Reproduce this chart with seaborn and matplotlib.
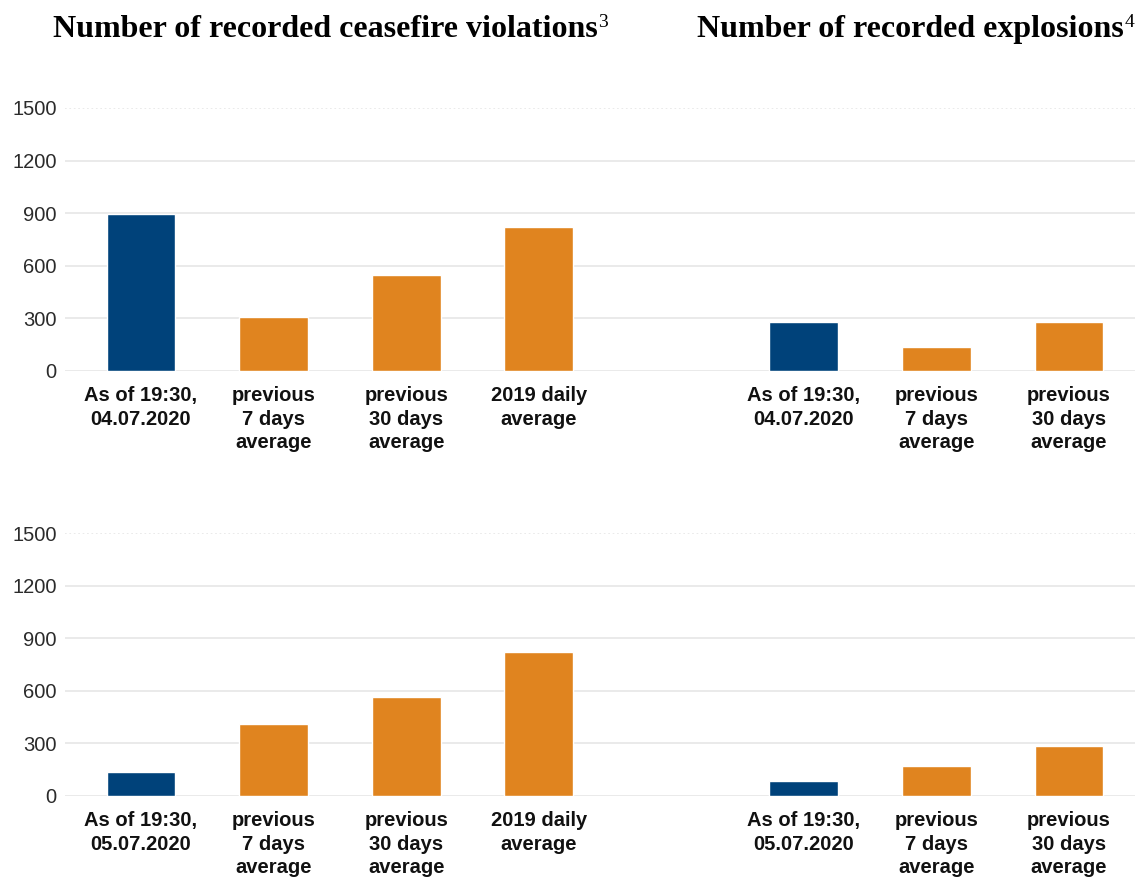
import matplotlib
matplotlib.use("Agg")
import matplotlib.pyplot as plt
import seaborn as sns
import pandas as pd

# data
dates = ["04.07.2020", "05.07.2020"]
cv_values = [[897, 308, 548, 821], [137, 411, 565, 821]]
ex_values = [[280, 137, 280], [86, 171, 285]]
avg_labels = ["previous\n7 days\naverage", "previous\n30 days\naverage", "2019 daily\naverage"]
cv_keys = ["cv_now", "cv_7", "cv_30", "cv_2019"]
ex_keys = ["ex_now", "ex_7", "ex_30"]
order = cv_keys + ["gap"] + ex_keys
yticks = [0, 300, 600, 900, 1200, 1500]
titles = ["Number of recorded ceasefire violations", "Number of recorded explosions"]
title_notes = ["3", "4"]

BLUE = "#00427a"
ORANGE = "#e0841f"
palette = {"current": BLUE, "average": ORANGE}

sns.set_theme(style="white")
plt.rcParams["font.family"] = ["Liberation Sans", "DejaVu Sans"]

fig = plt.figure(figsize=(11.41, 8.81), dpi=100)
axes_rects = [[0.057, 0.579, 0.938, 0.2985], [0.057, 0.0965, 0.938, 0.2985]]

for row, date in enumerate(dates):
    ax = fig.add_axes(axes_rects[row])
    df = pd.DataFrame({
        "key": cv_keys + ex_keys,
        "value": cv_values[row] + ex_values[row],
        "kind": ["current"] + ["average"] * 3 + ["current"] + ["average"] * 2,
    })
    sns.barplot(data=df, x="key", y="value", hue="kind", order=order,
                palette=palette, dodge=False, width=0.52, legend=False,
                saturation=1, ax=ax)
    now_label = f"As of 19:30,\n{date}"
    labels = [now_label] + avg_labels + [""] + [now_label] + avg_labels[:2]
    ax.set_xticks(range(len(order)))
    ax.set_xticklabels(labels, fontsize=14.5, fontweight="bold", color="#111111",
                       linespacing=1.3)
    ax.set_xlim(-0.573, 7.5)
    ax.set_ylim(0, 1500)
    ax.set_yticks(yticks)
    ax.set_yticklabels([str(v) for v in yticks], fontsize=14.5, color="#2b2b2b")
    ax.set_xlabel("")
    ax.set_ylabel("")
    ax.tick_params(axis="both", length=0)
    ax.tick_params(axis="x", pad=11)
    ax.tick_params(axis="y", pad=6)
    ax.grid(axis="y", color="#e6e6e6", linewidth=1.2)
    ax.set_axisbelow(True)
    ax.get_ygridlines()[-1].set_linestyle(":")
    for s in ax.spines.values():
        s.set_visible(False)

# titles with superscript notes
renderer = fig.canvas.get_renderer()
title_x = [53 / 1141, 697 / 1141]
for tx, title, note in zip(title_x, titles, title_notes):
    t = fig.text(tx, 0.958, title, fontsize=23, fontweight="bold", color="black",
                 family=["Liberation Serif", "DejaVu Serif"], va="baseline", ha="left")
    bb = t.get_window_extent(renderer=renderer)
    fig.text(bb.x1 / fig.bbox.width + 0.0005, 0.958 + 0.011, note, fontsize=14,
             color="black", family=["Liberation Serif", "DejaVu Serif"],
             va="baseline", ha="left")

fig.savefig("out.png", dpi=100)
